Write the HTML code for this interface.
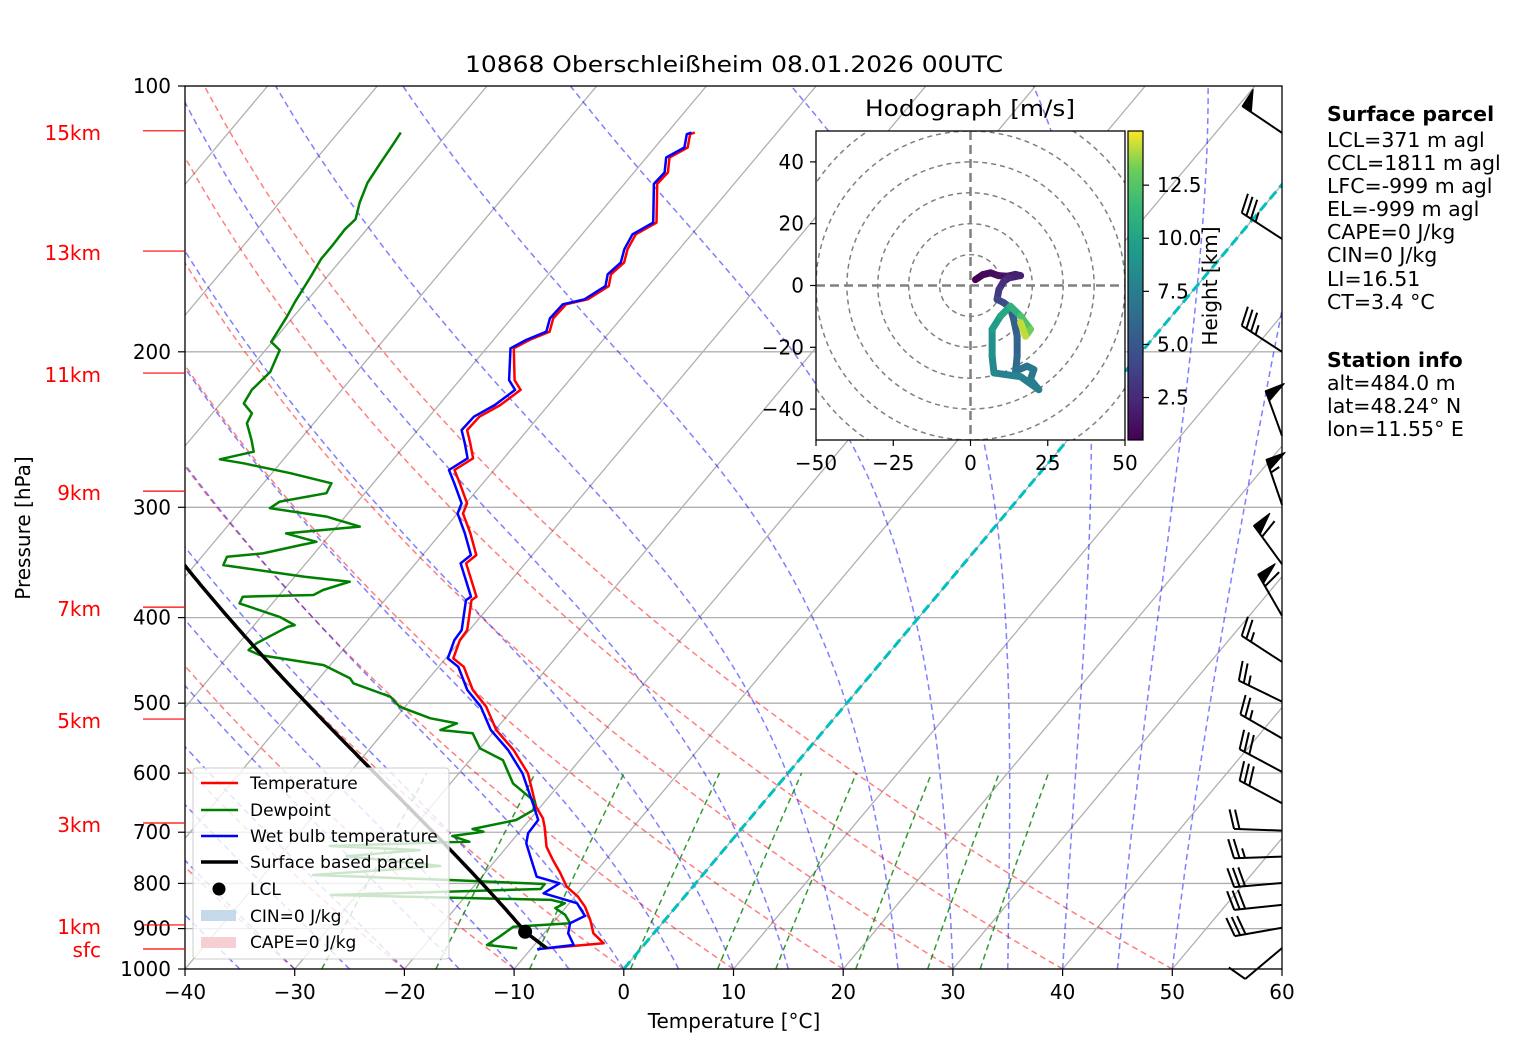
<!DOCTYPE html>
<html><head><meta charset="utf-8"><title>Skew-T 10868</title>
<style>
html,body{margin:0;padding:0;background:#fff;}
svg{display:block;font-family:"DejaVu Sans","Liberation Sans",sans-serif;}
</style></head>
<body>
<svg id="chart" width="1517" height="1054" viewBox="0 0 1517 1054" xmlns="http://www.w3.org/2000/svg">
<defs>
<clipPath id="axclip"><rect x="185" y="86" width="1097" height="883"/></clipPath>
<clipPath id="hodoclip"><rect x="816" y="131" width="309" height="309"/></clipPath>
<linearGradient id="viridis" x1="0" y1="1" x2="0" y2="0">
<stop offset="0" stop-color="#440154"/><stop offset="0.13" stop-color="#482878"/><stop offset="0.25" stop-color="#3e4989"/><stop offset="0.38" stop-color="#31688e"/><stop offset="0.5" stop-color="#26828e"/><stop offset="0.63" stop-color="#1f9e89"/><stop offset="0.75" stop-color="#35b779"/><stop offset="0.88" stop-color="#6ece58"/><stop offset="1" stop-color="#fde725"/>
</linearGradient>
</defs>
<rect x="0" y="0" width="1517" height="1054" fill="#fff"/>
<text x="734" y="72" text-anchor="middle" font-size="22" textLength="538" lengthAdjust="spacingAndGlyphs">10868 Oberschleißheim 08.01.2026 00UTC</text>
<g id="back" clip-path="url(#axclip)"></g>
<g id="prof" clip-path="url(#axclip)"></g>
<rect x="185" y="86" width="1097" height="883" fill="none" stroke="#000" stroke-width="1.3"/>
<g id="axes"></g>
<g id="barbs"></g>
<g id="hodo"></g>
<g id="legend">
<rect x="193" y="768" width="256" height="191" rx="3" fill="#fff" fill-opacity="0.8" stroke="#cccccc"/>
<line x1="201" y1="783" x2="238" y2="783" stroke="#ff0000" stroke-width="2.5"/>
<text x="250" y="789" font-size="17">Temperature</text>
<line x1="201" y1="810" x2="238" y2="810" stroke="#008000" stroke-width="2.5"/>
<text x="250" y="816" font-size="17">Dewpoint</text>
<line x1="201" y1="836" x2="238" y2="836" stroke="#0000ff" stroke-width="2.5"/>
<text x="250" y="842" font-size="17">Wet bulb temperature</text>
<line x1="201" y1="862" x2="238" y2="862" stroke="#000" stroke-width="3.5"/>
<text x="250" y="868" font-size="17">Surface based parcel</text>
<circle cx="219" cy="889" r="6.5" fill="#000"/>
<text x="250" y="895" font-size="17">LCL</text>
<rect x="201" y="910" width="35" height="11" fill="#c6d9ea"/>
<text x="250" y="922" font-size="17">CIN=0 J/kg</text>
<rect x="201" y="937" width="35" height="11" fill="#f5cfd2"/>
<text x="250" y="948" font-size="17">CAPE=0 J/kg</text>
</g>
<g id="info" font-size="20.5">
<text x="1327" y="121" font-weight="bold">Surface parcel</text>
<text x="1327" y="147">LCL=371 m agl</text>
<text x="1327" y="170">CCL=1811 m agl</text>
<text x="1327" y="193">LFC=-999 m agl</text>
<text x="1327" y="216">EL=-999 m agl</text>
<text x="1327" y="239">CAPE=0 J/kg</text>
<text x="1327" y="262">CIN=0 J/kg</text>
<text x="1327" y="286">LI=16.51</text>
<text x="1327" y="309">CT=3.4 °C</text>
<text x="1327" y="367" font-weight="bold">Station info</text>
<text x="1327" y="390">alt=484.0 m</text>
<text x="1327" y="413">lat=48.24° N</text>
<text x="1327" y="436">lon=11.55° E</text>
</g>
</svg>
<script>
// ---- sounding data ----
const tempP=[947.5,935.2,911.1,880,850,828.2,806.9,779.2,752.6,727,690,675.1,655,600.4,564.9,536.2,504.6,483.1,454.7,444.9,424.1,413.2,382.1,378.8,359.5,347.2,339.8,321.1,304.8,296.9,281.8,272.2,264,253.9,245.3,236.9,229.8,220.9,215.3,198.2,193.9,189.8,183.3,176.7,174.4,168.5,163.4,158.5,153.1,147.2,142.8,133.2,129.1,125.3,120.5,117.4,113.4,112.9];
const tempT=[-8.6,-3.8,-5.5,-6.8,-8.3,-9.7,-11.5,-13.1,-14.8,-16.4,-18.1,-18.9,-20.4,-23.7,-26.8,-29.9,-32.6,-35.1,-37.7,-39.3,-40.1,-40.2,-42.1,-41.9,-44.0,-45.4,-45.1,-47.3,-49.5,-49.9,-52.1,-53.6,-52.8,-54.2,-55.5,-55.4,-54.4,-53.7,-55.0,-57.5,-56.7,-55.5,-56.2,-56.1,-54.5,-53.6,-54.3,-54.0,-54.7,-55.1,-54.1,-56.1,-57.0,-56.9,-57.9,-57.0,-57.8,-57.5];
const dewP=[947.5,939.4,919.2,895.5,887.4,868.2,853.2,842.4,835.2,824.5,811.7,801.2,792.9,782.6,764.5,745,733.4,725.7,718.2,717.7,707,699.1,694.2,678.1,660.7,646.5,616.3,580,562.4,540.9,536.2,527,520.1,504.6,491.6,474.7,468.5,452.7,441,435.3,427.8,409.7,407.9,399.2,385.4,378.8,377.1,372.2,364.2,359.5,348.8,341.3,338.3,331.1,328.2,321.1,315.5,307.4,300.7,295.6,289.2,281.8,274.5,267.4,264.7,259.5,251.7,240.9,234.8,228.8,220.9,210.7,199.1,194.9,182.5,175.5,164.1,157.1,151.8,145.3,141.5,135.5,128.7,122.7,116.4,112.9];
const dewT=[-11.3,-14.3,-13.8,-13.3,-8.4,-9.5,-10.9,-10.4,-11.9,-32.3,-13.7,-13.7,-22.7,-35.5,-24.6,-33.9,-27.7,-36.2,-25.6,-23.8,-25.8,-23.3,-24.5,-21.2,-20.4,-20.9,-24.3,-27.0,-30.0,-31.8,-35.0,-34.0,-36.8,-40.5,-42.1,-46.5,-47.2,-50.6,-57.2,-58.6,-58.4,-56.8,-56.3,-58.3,-63.0,-63.2,-56.9,-56.4,-54.6,-59.1,-67.4,-67.7,-64.7,-61.9,-60.7,-64.1,-57.9,-61.7,-67.5,-67.1,-63.5,-63.8,-68.3,-73.4,-75.8,-73.3,-74.4,-76.1,-76.4,-77.9,-78.2,-77.9,-78.7,-80.1,-80.6,-81.0,-81.5,-81.9,-81.9,-82.0,-81.8,-82.7,-83.5,-83.8,-84.1,-84.3];
const wbP=[949.9,939.4,911.1,887.4,870.6,842.3,820.8,799.8,786.1,746.1,720.5,702,678.1,655,600.4,564.9,536.2,504.6,483.1,454.7,444.9,424.1,413.2,382.1,378.8,359.5,347.2,339.8,321.1,304.8,296.9,281.8,272.2,264,253.9,245.3,236.9,229.8,220.9,215.3,198.2,193.9,189.8,183.3,176.7,174.4,168.5,163.4,158.5,153.1,147.2,142.8,133.2,129.1,125.3,120.5,117.4,113.4,112.9];
const wbT=[-9.4,-6.4,-7.8,-8.4,-7.6,-9.3,-13.1,-12.4,-15.0,-17.1,-18.5,-19.1,-19.2,-20.6,-24.2,-27.3,-30.4,-33.1,-35.6,-38.2,-39.8,-40.6,-40.7,-42.6,-42.4,-44.5,-45.9,-45.6,-47.8,-50.0,-50.4,-52.6,-54.1,-53.3,-54.7,-56.0,-55.9,-54.9,-54.2,-55.5,-57.8,-57.0,-55.8,-56.5,-56.4,-54.8,-53.9,-54.6,-54.3,-55.0,-55.4,-54.4,-56.4,-57.3,-57.2,-58.2,-57.3,-58.1,-57.8];
// wind barbs
const barbP=[113,149,200,249,298,348,398,449,498,548,598,649,697,746,799,846,898,947];
const barbDir=[304,303,303,340,341,324,330,303,296,300,298,298,272,268,265,264,260,230];
const barbSpd=[50,35,35,50,55,60,60,25,25,25,30,30,20,25,30,30,30,10];
// hodograph
const hodoU=[1.6,4,6.5,9,11.9,14.5,16.2,12.5,10.8,9.2,8.6,10.8,12.9,14,15.1,15.1,14.6,18.3,20.5,19.4,22.1,16.2,7.6,7,7,9.7,12.9,16.2,19.4,17.8,16.2];
const hodoV=[1.9,3.5,4.1,3.2,3,3.6,3.2,2.5,1.4,-1.3,-4.5,-5.6,-7.2,-11,-16.4,-22.9,-27.7,-26.1,-27.2,-30.4,-33.7,-29.5,-28.3,-22.9,-14.2,-9.9,-6.7,-9.9,-14.2,-16.4,-12];
const hodoH=[0.5,0.8,1.0,1.3,1.6,1.9,2.1,2.4,2.8,3.3,4.0,4.5,5.0,5.4,5.8,6.2,6.6,6.9,7.1,7.3,7.5,7.8,8.2,8.8,9.5,10.3,11.0,12.3,13.3,14.3,14.9];
// axis ticks / labels
const pTicks=[100,200,300,400,500,600,700,800,900,1000];
const tTicks=[-40,-30,-20,-10,0,10,20,30,40,50,60];
const kmLabels=['15km','13km','11km','9km','7km','5km','3km','1km','sfc'];
const kmP=[112.4,153.8,211.4,287.6,389.2,521.1,683.4,891.5,949.1];
const hodoTicks=[-50,-25,0,25,50];
const hodoYTicks=[40,20,0,-20,-40];
const hodoRings=[10,20,30,40,50,60];
const cbTicks=[2.5,5.0,7.5,10.0,12.5];
const dryTheta=[-40,-30,-20,-10,0,10,20,30,40,50];
const moistT0=[-40,-35,-30,-25,-20,-15,-10,-5,0,5,10,15,20,25,30,35,40,45,50];
const mixW=[0.0004,0.001,0.002,0.004,0.007,0.01,0.016,0.024,0.032];

const NS='http://www.w3.org/2000/svg';
function mk(tag,attrs,parent){const e=document.createElementNS(NS,tag);for(const k in attrs)e.setAttribute(k,attrs[k]);parent.appendChild(e);return e;}
function yP(p){return 86+(Math.log10(p)-2)*883;}
function xT(T,p){return 185+(T+40)*10.97+(969-yP(p))*0.839;}
function pathFrom(ps,ts){return ps.map((p,i)=>(i?'L':'M')+xT(ts[i],p).toFixed(1)+','+yP(p).toFixed(1)).join('');}
const back=document.getElementById('back'),prof=document.getElementById('prof'),axes=document.getElementById('axes'),barbs=document.getElementById('barbs'),hodo=document.getElementById('hodo');

const Rd=287.04,Cp=1005.7,Lv=2.501e6,EPS=0.622;
function es(Tc){return 6.112*Math.exp(17.67*Tc/(Tc+243.5));}
function moistGrad(p,Tc){const T=Tc+273.15;const e=es(Tc);const rs=EPS*e/(p-e);return (Rd*T+Lv*rs)/(p*(Cp+Lv*Lv*rs*EPS/(Rd*T*T)));}
function moistPath(p0,T0,pEnd){const ps=[p0],ts=[T0];let p=p0,T=T0;const dp=-4;while(p+dp>=pEnd-0.01){const k1=moistGrad(p,T);const k2=moistGrad(p+dp,T+k1*dp);T+=0.5*(k1+k2)*dp;p+=dp;ps.push(p);ts.push(T);}return [ps,ts];}

pTicks.forEach(p=>{const l=mk('line',{x1:185,x2:1282,y1:yP(p),y2:yP(p),stroke:'#b0b0b0','stroke-width':1.3},back);

});
for(let T=-150;T<=60;T+=10){const l=mk('line',{x1:xT(T,1000),y1:yP(1000),x2:xT(T,100),y2:yP(100),stroke:'#b0b0b0','stroke-width':1.3},back);

}
dryTheta.forEach(th=>{const ps=[],ts=[];for(let p=1000;p>=100;p-=10){ps.push(p);ts.push((th+273.15)*Math.pow(p/1000,0.2857)-273.15);}
const e=mk('path',{d:pathFrom(ps,ts),fill:'none',stroke:'#ff0000','stroke-opacity':0.5,'stroke-width':1.5,'stroke-dasharray':'6,4'},back);

});
moistT0.forEach(t0=>{const r=moistPath(1000,t0,100);
const e=mk('path',{d:pathFrom(r[0],r[1]),fill:'none',stroke:'#0000ff','stroke-opacity':0.5,'stroke-width':1.5,'stroke-dasharray':'6,4'},back);

});
mixW.forEach(w=>{const ps=[],ts=[];for(let p=1000;p>=600;p-=10){const e=p*w/(EPS+w);const l=Math.log(e/6.112);ps.push(p);ts.push(243.5*l/(17.67-l));}
const e=mk('path',{d:pathFrom(ps,ts),fill:'none',stroke:'#008000','stroke-opacity':0.8,'stroke-width':1.5,'stroke-dasharray':'6,4'},back);

});
const zi=mk('line',{x1:xT(0,1000),y1:yP(1000),x2:xT(0,100),y2:yP(100),stroke:'#00bfbf','stroke-width':3,'stroke-dasharray':'10,5'},back);



const tl=mk('path',{d:pathFrom(tempP,tempT),fill:'none',stroke:'#ff0000','stroke-width':2.5,'stroke-linejoin':'round'},prof);


const dl=mk('path',{d:pathFrom(dewP,dewT),fill:'none',stroke:'#008000','stroke-width':2.5,'stroke-linejoin':'round'},prof);


const wl=mk('path',{d:pathFrom(wbP,wbT),fill:'none',stroke:'#0000ff','stroke-width':2.5,'stroke-linejoin':'round'},prof);


const p0=tempP[0],T0k=tempT[0]+273.15,Td0k=dewT[0]+273.15;
const Tlcl=1/(1/(Td0k-56)+Math.log(T0k/Td0k)/800)+56;
const plcl=p0*Math.pow(Tlcl/T0k,3.5);
const mp=moistPath(plcl,Tlcl-273.15,100);
const parP=[p0].concat(mp[0]),parT=[tempT[0]].concat(mp[1]);
const pl=mk('path',{d:pathFrom(parP,parT),fill:'none',stroke:'#000','stroke-width':3.5},prof);


const lc=mk('circle',{cx:xT(Tlcl-273.15,plcl),cy:yP(plcl),r:7,fill:'#000'},prof);



pTicks.forEach(p=>{const y=yP(p);
const t=mk('line',{x1:178,x2:185,y1:y,y2:y,stroke:'#000','stroke-width':1.2},axes);


const tx=mk('text',{x:171,y:y+7,'text-anchor':'end','font-size':20},axes);tx.textContent=p;

});
tTicks.forEach(T=>{const x=185+(T+40)*10.97;
const t=mk('line',{x1:x,x2:x,y1:969,y2:976,stroke:'#000','stroke-width':1.2},axes);


const tx=mk('text',{x:x,y:999,'text-anchor':'middle','font-size':20},axes);tx.textContent=(T<0?'\u2212'+(-T):T);

});
kmLabels.forEach((s,i)=>{const y=yP(kmP[i]);
const t=mk('line',{x1:143,x2:185,y1:y,y2:y,stroke:'#ff0000','stroke-width':1.2},axes);


const tx=mk('text',{x:101,y:y+(s==='sfc'?8:9),'text-anchor':'end','font-size':20,fill:'#ff0000'},axes);tx.textContent=s;

});
const xt=mk('text',{x:734,y:1028,'text-anchor':'middle','font-size':20},axes);xt.textContent='Temperature [°C]';


const yt=mk('text',{x:0,y:0,'text-anchor':'middle','font-size':20,transform:'translate(30,528) rotate(-90)'},axes);yt.textContent='Pressure [hPa]';



barbP.forEach((p,i)=>{const bx0=1282,by0=yP(p);const r=barbDir[i]*Math.PI/180;const dx=Math.sin(r),dy=-Math.cos(r);
const c=Math.cos(75*Math.PI/180),s=Math.sin(75*Math.PI/180);const fx=dx*c-dy*s,fy=dx*s+dy*c;
const L=48;let px=bx0+dx*L,py=by0+dy*L;
const g=mk('g',{stroke:'#000','stroke-width':2,fill:'#000'},barbs);


const st=mk('line',{x1:bx0,y1:by0,x2:px,y2:py},g);


let sp=Math.round(barbSpd[i]/5)*5;const np=Math.floor(sp/50);sp-=np*50;const nf=Math.floor(sp/10);sp-=nf*10;const nh=sp>=5?1:0;
for(let k=0;k<np;k++){const ax=px+fx*21-dx*5,ay=py+fy*21-dy*5;
const tri=mk('polygon',{points:px+','+py+' '+ax+','+ay+' '+(px-dx*11)+','+(py-dy*11),'stroke-width':1},g);


px-=dx*14;py-=dy*14;}
for(let k=0;k<nf;k++){const f=mk('line',{x1:px,y1:py,x2:px+fx*20,y2:py+fy*20},g);


px-=dx*5.5;py-=dy*5.5;}
if(nh){if(nf===0&&np===0){px-=dx*5.5;py-=dy*5.5;}
const h=mk('line',{x1:px,y1:py,x2:px+fx*10,y2:py+fy*10},g);

}
});

const HX0=816,HY0=131,HW=309;const hx=u=>HX0+(u+50)/100*HW,hy=v=>HY0+(50-v)/100*HW;
const hb=mk('rect',{x:HX0,y:HY0,width:HW,height:HW,fill:'#fff'},hodo);


const hg=mk('g',{'clip-path':'url(#hodoclip)'},hodo);


hodoRings.forEach(r=>{const c=mk('circle',{cx:hx(0),cy:hy(0),r:r/100*HW,fill:'none',stroke:'#808080','stroke-width':1.5,'stroke-dasharray':'5,4'},hg);

});
const ha=mk('line',{x1:HX0,x2:HX0+HW,y1:hy(0),y2:hy(0),stroke:'#808080','stroke-width':2.5,'stroke-dasharray':'9,5'},hg);


const hv=mk('line',{y1:HY0,y2:HY0+HW,x1:hx(0),x2:hx(0),stroke:'#808080','stroke-width':2.5,'stroke-dasharray':'9,5'},hg);


const vir=[[68,1,84],[72,40,120],[62,73,137],[49,104,142],[38,130,142],[31,158,137],[53,183,121],[110,206,88],[253,231,37]];
const vpos=[0,0.13,0.25,0.38,0.5,0.63,0.75,0.88,1];
function viridis(t){t=Math.max(0,Math.min(1,t));let i=0;while(i<vpos.length-2&&t>vpos[i+1])i++;const f=(t-vpos[i])/(vpos[i+1]-vpos[i]);const a=vir[i],b=vir[i+1];return 'rgb('+a.map((v,k)=>Math.round(v+(b[k]-v)*f)).join(',')+')';}
const hMin=0.5,hMax=15.05;
for(let i=0;i<hodoU.length-1;i++){const sg=mk('line',{x1:hx(hodoU[i]),y1:hy(hodoV[i]),x2:hx(hodoU[i+1]),y2:hy(hodoV[i+1]),stroke:viridis((hodoH[i]-hMin)/(hMax-hMin)),'stroke-width':7,'stroke-linecap':'round'},hg);

}
const hf=mk('rect',{x:HX0,y:HY0,width:HW,height:HW,fill:'none',stroke:'#000','stroke-width':1.3},hodo);


hodoTicks.forEach(u=>{const x=hx(u);
const t=mk('line',{x1:x,x2:x,y1:HY0+HW,y2:HY0+HW+6,stroke:'#000','stroke-width':1.2},hodo);


const tx=mk('text',{x:x,y:HY0+HW+30,'text-anchor':'middle','font-size':20},hodo);tx.textContent=(u<0?'\u2212'+(-u):u);

});
hodoYTicks.forEach(v=>{const y=hy(v);
const t=mk('line',{x1:HX0-6,x2:HX0,y1:y,y2:y,stroke:'#000','stroke-width':1.2},hodo);


const tx=mk('text',{x:HX0-12,y:y+7,'text-anchor':'end','font-size':20},hodo);tx.textContent=(v<0?'\u2212'+(-v):v);

});
const htt=mk('text',{x:970,y:116,'text-anchor':'middle','font-size':22,textLength:210,lengthAdjust:'spacingAndGlyphs'},hodo);htt.textContent='Hodograph [m/s]';


const cb=mk('rect',{x:1128,y:131,width:15,height:309,fill:'url(#viridis)',stroke:'#000','stroke-width':1.2},hodo);


cbTicks.forEach(h=>{const y=440-(h-hMin)/(hMax-hMin)*309;
const t=mk('line',{x1:1143,x2:1149,y1:y,y2:y,stroke:'#000','stroke-width':1.2},hodo);


const tx=mk('text',{x:1157,y:y+7,'font-size':20},hodo);tx.textContent=h.toFixed(1);

});
const cbl=mk('text',{x:0,y:0,'text-anchor':'middle','font-size':20,transform:'translate(1217,286) rotate(-90)'},hodo);cbl.textContent='Height [km]';


</script>
</body></html>
